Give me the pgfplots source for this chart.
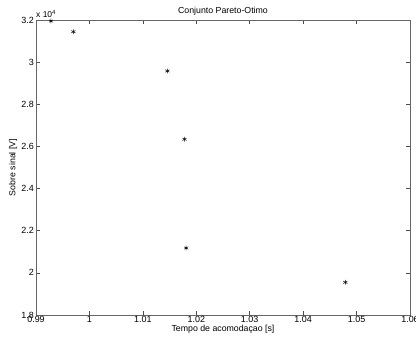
\documentclass[border=0pt]{standalone}
\usepackage{pgfplots}
\pgfplotsset{compat=1.18}
\usepackage{fontspec}
\setmainfont{Liberation Sans}

\begin{document}
\begin{tikzpicture}
\fontsize{9}{11}\selectfont
\begin{axis}[
  scale only axis,
  clip=false,
  width=374bp, height=295bp,
  at={(36bp,30bp)}, anchor=south west,
  xmin=0.99, xmax=1.06,
  ymin=18000, ymax=32000,
  xtick={0.99,1,1.01,1.02,1.03,1.04,1.05,1.06},
  ytick={18000,20000,22000,24000,26000,28000,30000,32000},
  yticklabels={1.8,2,2.2,2.4,2.6,2.8,3,3.2},
  scaled x ticks=false,
  scaled y ticks=false,
  xticklabel style={/pgf/number format/fixed, /pgf/number format/precision=2, yshift=1.5pt},
  yticklabel style={xshift=1pt},
  /pgf/number format/assume math mode=true,
  tick align=inside,
  major tick length=4bp,
  tick style={black!70, line width=0.5pt},
  axis line style={black!60, line width=0.5pt},
  every tick label/.append style={font=\fontsize{9}{11}\selectfont},
  title={Conjunto Pareto-Otimo},
  title style={font=\fontsize{8.8}{11}\selectfont, yshift=-4bp},
  xlabel={Tempo de acomodaçao [s]},
  ylabel={Sobre sinal [V]},
  xlabel style={font=\fontsize{8.8}{11}\selectfont, yshift=4.5bp},
  ylabel style={font=\fontsize{8.8}{11}\selectfont, yshift=-2bp},
]
\addplot[only marks, mark=asterisk, mark size=2.4bp, black, mark options={line width=0.5pt}] coordinates {
  (0.9928, 31950)
  (0.9970, 31445)
  (1.0146, 29580)
  (1.0178, 26340)
  (1.0181, 21180)
  (1.0479, 19550)
};
\node[anchor=south west, inner sep=0pt, yshift=2bp, font=\fontsize{8.5}{10}\selectfont]
  at (rel axis cs:0,1) {x 10\textsuperscript{4}};
\end{axis}
\pgfresetboundingbox
\path (0,0) rectangle (416bp,345bp);
\end{tikzpicture}
\end{document}
